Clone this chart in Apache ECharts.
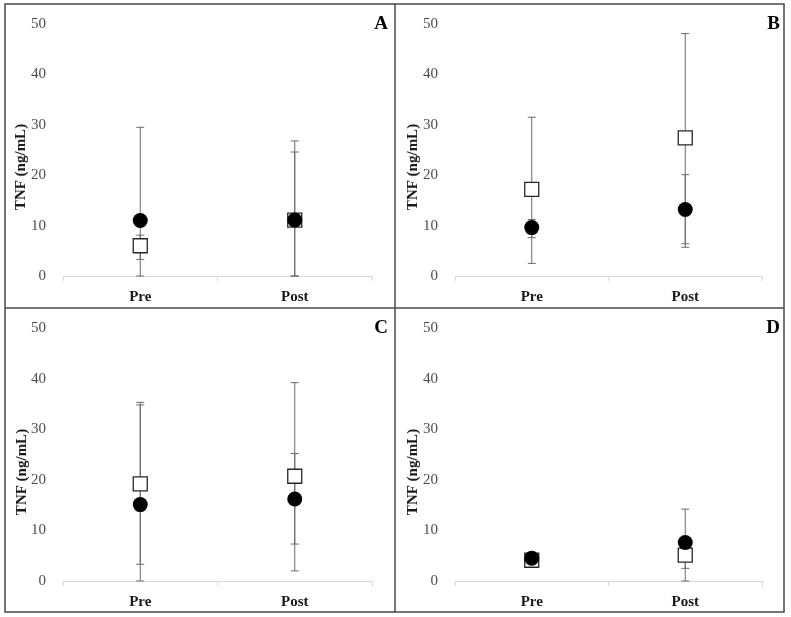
<!DOCTYPE html>
<html>
<head>
<meta charset="utf-8">
<script src="https://cdn.jsdelivr.net/npm/echarts@6/dist/echarts.min.js"></script>
<style>
  html, body { margin: 0; padding: 0; background: #fff; }
  #chart { width: 791px; height: 617px; }
</style>
</head>
<body>
<div id="chart"></div>
<script>
// 数据
const categories = ['Pre', 'Post']
const panelLetters = ['A', 'B', 'C', 'D']

// 空心方块组
const squareMean = [[6.0, 11.1], [17.2, 27.4], [19.2, 20.7], [4.1, 5.1]]
const squareLow = [[3.3, 0], [2.5, 5.7], [3.3, 2.0], [2.8, 2.5]]
const squareHigh = [[8.1, 24.6], [31.5, 48.1], [34.8, 39.2], [5.4, 7.7]]

// 实心圆组
const circleMean = [[11.0, 11.1], [9.6, 13.2], [15.1, 16.2], [4.5, 7.6]]
const circleLow = [[0, 0], [7.6, 6.4], [0, 7.3], [3.5, 0]]
const circleHigh = [[29.5, 26.8], [11.2, 20.1], [35.3, 25.2], [5.5, 14.2]]

const yName = 'TNF (ng/mL)'

const chart = echarts.init(document.getElementById('chart'))

// 每个小图的位置
const grids = [
  { left: 63, top: 24, width: 309, height: 252 },
  { left: 455, top: 24, width: 307, height: 252 },
  { left: 63, top: 328, width: 309, height: 253 },
  { left: 455, top: 328, width: 307, height: 253 }
]

const errorBarItem = (params, api) => {
  const x = api.value(0)
  const lo = api.coord([x, api.value(1)])
  const hi = api.coord([x, api.value(2)])
  const half = 4
  const style = { stroke: '#6b6b6b', lineWidth: 1 }
  return {
    type: 'group',
    children: [
      { type: 'line', shape: { x1: lo[0], y1: lo[1], x2: hi[0], y2: hi[1] }, style },
      { type: 'line', shape: { x1: lo[0] - half, y1: lo[1], x2: lo[0] + half, y2: lo[1] }, style },
      { type: 'line', shape: { x1: hi[0] - half, y1: hi[1], x2: hi[0] + half, y2: hi[1] }, style }
    ]
  }
}

const xAxes = grids.map((g, i) => ({
  type: 'category',
  gridIndex: i,
  data: categories,
  boundaryGap: true,
  axisLine: { lineStyle: { color: '#d9d9d9', width: 1 } },
  axisTick: { show: true, length: 5, lineStyle: { color: '#d9d9d9' } },
  axisLabel: {
    color: '#1a1a1a',
    fontFamily: 'Liberation Serif',
    fontWeight: 'bold',
    fontSize: 15,
    margin: 14
  }
}))

const yAxes = grids.map((g, i) => ({
  type: 'value',
  gridIndex: i,
  min: 0,
  max: 50,
  interval: 10,
  axisLine: { show: false },
  axisTick: { show: false },
  splitLine: { show: false },
  axisLabel: {
    color: '#4d4d4d',
    fontFamily: 'Liberation Serif',
    fontSize: 15,
    margin: 17
  }
}))

const series = []
grids.forEach((g, i) => {
  const bars = []
  categories.forEach((c, j) => {
    bars.push([j, squareLow[i][j], squareHigh[i][j]])
    bars.push([j, circleLow[i][j], circleHigh[i][j]])
  })
  series.push({
    type: 'custom',
    xAxisIndex: i,
    yAxisIndex: i,
    renderItem: errorBarItem,
    data: bars,
    z: 1
  })
  series.push({
    type: 'scatter',
    xAxisIndex: i,
    yAxisIndex: i,
    symbol: 'rect',
    symbolSize: 14,
    itemStyle: { color: '#fff', borderColor: '#262626', borderWidth: 1.3, opacity: 1 },
    data: categories.map((c, j) => [j, squareMean[i][j]]),
    z: 2
  })
  series.push({
    type: 'scatter',
    xAxisIndex: i,
    yAxisIndex: i,
    symbol: 'circle',
    symbolSize: 15,
    itemStyle: { color: '#000', opacity: 1 },
    data: categories.map((c, j) => [j, circleMean[i][j]]),
    z: 3
  })
})

// 标题字母、纵轴名称和边框
const graphic = []
const letterPos = [[388, 24], [780, 24], [388, 328], [780, 328]]
const namePos = [[21, 167], [413, 167], [22, 472], [413, 472]]
panelLetters.forEach((l, i) => {
  graphic.push({
    type: 'text',
    x: letterPos[i][0],
    y: letterPos[i][1],
    style: {
      text: l,
      fill: '#000',
      font: 'bold 19px "Liberation Serif"',
      textAlign: 'right',
      textVerticalAlign: 'middle'
    }
  })
  graphic.push({
    type: 'text',
    x: namePos[i][0],
    y: namePos[i][1],
    rotation: Math.PI / 2,
    style: {
      text: yName,
      fill: '#1a1a1a',
      font: 'bold 15px "Liberation Serif"',
      textAlign: 'center',
      textVerticalAlign: 'middle'
    }
  })
})
graphic.push({
  type: 'rect',
  shape: { x: 5, y: 4, width: 779, height: 608 },
  style: { fill: 'none', stroke: '#4a4a4a', lineWidth: 1.5 }
})
graphic.push({
  type: 'line',
  shape: { x1: 395, y1: 4, x2: 395, y2: 612 },
  style: { stroke: '#4a4a4a', lineWidth: 1.5 }
})
graphic.push({
  type: 'line',
  shape: { x1: 5, y1: 308, x2: 784, y2: 308 },
  style: { stroke: '#4a4a4a', lineWidth: 1.5 }
})

chart.setOption({
  animation: false,
  backgroundColor: '#fff',
  grid: grids,
  xAxis: xAxes,
  yAxis: yAxes,
  series,
  graphic
})
</script>
</body>
</html>
